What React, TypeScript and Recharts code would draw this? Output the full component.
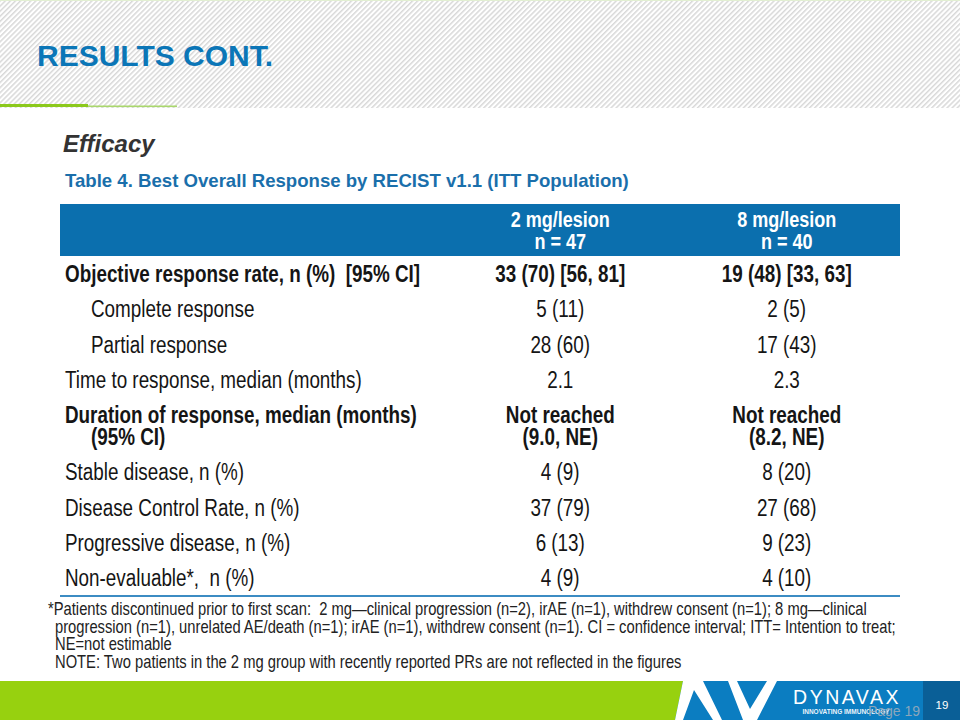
import React from "react";
import { ScatterChart, Scatter, XAxis, YAxis } from "recharts";

// table content
const rowLabels = [
  "Objective response rate, n (%)  [95% CI]",
  "Complete response",
  "Partial response",
  "Time to response, median (months)",
  "Duration of response, median (months)\n(95% CI)",
  "Stable disease, n (%)",
  "Disease Control Rate, n (%)",
  "Progressive disease, n (%)",
  "Non-evaluable*,  n (%)",
];
const boldRows = [0, 4];
const indentRows = [1, 2];

const columnHeaders = ["2 mg/lesion", "8 mg/lesion"];
const columnN = ["n = 47", "n = 40"];

const dose2Values = ["33 (70) [56, 81]", "5 (11)", "28 (60)", "2.1", "Not reached\n(9.0, NE)", "4 (9)", "37 (79)", "6 (13)", "4 (9)"];
const dose8Values = ["19 (48) [33, 63]", "2 (5)", "17 (43)", "2.3", "Not reached\n(8.2, NE)", "8 (20)", "27 (68)", "9 (23)", "4 (10)"];

const footnotes = [
  "*Patients discontinued prior to first scan:  2 mg\u2014clinical progression (n=2), irAE (n=1), withdrew consent (n=1); 8 mg\u2014clinical",
  "progression (n=1), unrelated AE/death (n=1); irAE (n=1), withdrew consent (n=1). CI = confidence interval; ITT= Intention to treat;",
  "NE=not estimable",
  "NOTE: Two patients in the 2 mg group with recently reported PRs are not reflected in the figures",
];

// layout
const W = 960;
const H = 720;
const TABLE_LEFT = 60;
const TABLE_RIGHT = 900;
const HEADER_TOP = 204;
const HEADER_BOTTOM = 256;
const BODY_BOTTOM = 596;
const LABEL_COL_W = 387;
const NARROW = 0.82;
const FONT = "'Liberation Sans', Arial, sans-serif";
const TEXT = "#151515";
const BLUE = "#0b6fae";

// rows with two lines take a bit more room
const rowWeights = rowLabels.map((l) => 1 + 0.6 * (l.split("\n").length - 1));
const rowCenters: number[] = [];
rowWeights.reduce((acc, w) => {
  rowCenters.push(acc + w / 2);
  return acc + w;
}, 0);
const rowTotal = rowWeights.reduce((a, b) => a + b, 0);

const makeCells = (values: string[], col: number) =>
  values.map((text, i) => ({ col, row: rowCenters[i], text, bold: boldRows.includes(i) }));

const NarrowText = ({ x, y, lines, anchor, size, bold, fill, indent = 0, lineH = 22 }: any) => (
  <text
    transform={`translate(${x},${y}) scale(${NARROW},1)`}
    textAnchor={anchor}
    fontSize={size}
    fontWeight={bold ? 700 : 400}
    fill={fill}
    fontFamily={FONT}
    style={{ whiteSpace: "pre" }}
  >
    {lines.map((l: string, k: number) => (
      <tspan key={k} x={k > 0 ? indent / NARROW : 0} y={(k - (lines.length - 1) / 2) * lineH} dy="0.35em">
        {l}
      </tspan>
    ))}
  </text>
);

const CellShape = (props: any) => {
  const { cx, cy, payload } = props;
  return <NarrowText x={cx} y={cy} lines={payload.text.split("\n")} anchor="middle" size={23} bold={payload.bold} fill={TEXT} />;
};

const RowTick = (props: any) => {
  const { y, payload } = props;
  const i = rowCenters.findIndex((c) => Math.abs(c - payload.value) < 1e-6);
  if (i < 0) return null;
  const indent = indentRows.includes(i) ? 26 : 0;
  return (
    <NarrowText
      x={TABLE_LEFT + 5 + indent}
      y={y}
      lines={rowLabels[i].split("\n")}
      anchor="start"
      size={23}
      bold={boldRows.includes(i)}
      fill={TEXT}
      indent={26}
    />
  );
};

const HeaderTick = (props: any) => {
  const { x, payload } = props;
  const i = payload.value;
  return (
    <NarrowText
      x={x}
      y={(HEADER_TOP + HEADER_BOTTOM) / 2}
      lines={[columnHeaders[i], columnN[i]]}
      anchor="middle"
      size={22}
      bold
      fill="#fff"
      lineH={22}
    />
  );
};

const SlideBackground = () => (
  <svg width={W} height={H} style={{ position: "absolute", left: 0, top: 0 }}>
    <defs>
      <pattern id="hatch" width="3.6" height="3.6" patternUnits="userSpaceOnUse" patternTransform="rotate(45)">
        <rect width="1.5" height="3.6" fill="#d8d8d8" />
      </pattern>
    </defs>
    <rect x={0} y={0} width={W} height={H} fill="#fff" />
    <rect x={0} y={0} width={W} height={108} fill="url(#hatch)" />
    <rect x={0} y={0} width={W} height={1} fill="#e2efd2" />
    <rect x={0} y={104} width={88} height={3} fill="#8cc91c" />
    <rect x={88} y={105.5} width={89} height={1.6} fill="#a9d76c" />
    <text x={37} y={66} fontSize={30} fontWeight={700} fill="#0b76b7" fontFamily={FONT}>
      RESULTS CONT.
    </text>

    <text x={63} y={152} fontSize={24} fontWeight={700} fontStyle="italic" fill="#333" fontFamily={FONT}>
      Efficacy
    </text>
    <text x={65} y={187} fontSize={18.6} fontWeight={700} fill="#1a6fab" fontFamily={FONT}>
      Table 4. Best Overall Response by RECIST v1.1 (ITT Population)
    </text>

    <rect x={TABLE_LEFT} y={HEADER_TOP} width={TABLE_RIGHT - TABLE_LEFT} height={HEADER_BOTTOM - HEADER_TOP} fill={BLUE} />
    <rect x={TABLE_LEFT} y={BODY_BOTTOM - 1} width={TABLE_RIGHT - TABLE_LEFT} height={2} fill="#3c8cc3" />

    {footnotes.map((f, i) => (
      <text
        key={i}
        transform={`translate(${i === 0 ? 48 : 55},${615 + i * 17.7}) scale(${NARROW},1)`}
        fontSize={18}
        fill="#222"
        fontFamily={FONT}
        style={{ whiteSpace: "pre" }}
      >
        {f}
      </text>
    ))}

    {/* footer band */}
    <rect x={660} y={681} width={300} height={39} fill="#0b7dc1" />
    <polygon points="0,681 683,681 675,720 0,720" fill="#97d10f" />
    <polygon points="683,681 703,681 722,720 713,720 694,690 683,720 675,720" fill="#fff" />
    <polygon points="728,681 737,681 750,709 767,681 777,681 757,720 743,720" fill="#fff" />
    <rect x={923} y={681} width={37} height={39} fill="#0a5f97" />
    <text x={847} y={704} textAnchor="middle" fontSize={19.5} letterSpacing={2.5} fill="#fff" fontFamily={FONT}>
      DYNAVAX
    </text>
    <text x={846} y={714} textAnchor="middle" fontSize={6.5} fontWeight={700} fill="#e8f2fa" fontFamily={FONT}>
      INNOVATING IMMUNOLOGY
    </text>
    <text x={894} y={716} textAnchor="middle" fontSize={14} fill="#8aa6bb" fontFamily={FONT}>
      Page 19
    </text>
    <text x={942} y={709} textAnchor="middle" fontSize={11.5} fill="#fff" fontFamily={FONT}>
      19
    </text>
  </svg>
);

export default function App() {
  return (
    <div style={{ position: "fixed", left: 0, top: 0, width: W, height: H, overflow: "hidden", background: "#fff" }}>
      <SlideBackground />
      <div style={{ position: "absolute", left: 0, top: 0 }}>
        <ScatterChart
          width={W}
          height={H}
          margin={{ top: HEADER_TOP, right: W - TABLE_RIGHT, bottom: H - BODY_BOTTOM, left: TABLE_LEFT }}
        >
          <XAxis
            type="number"
            dataKey="col"
            orientation="top"
            domain={[-0.5, 1.5]}
            ticks={[0, 1]}
            interval={0}
            height={HEADER_BOTTOM - HEADER_TOP}
            axisLine={false}
            tickLine={false}
            tick={<HeaderTick />}
          />
          <YAxis
            type="number"
            dataKey="row"
            domain={[0, rowTotal]}
            reversed
            ticks={rowCenters}
            interval={0}
            width={LABEL_COL_W}
            axisLine={false}
            tickLine={false}
            tick={<RowTick />}
          />
          <Scatter data={makeCells(dose2Values, 0)} shape={<CellShape />} isAnimationActive={false} />
          <Scatter data={makeCells(dose8Values, 1)} shape={<CellShape />} isAnimationActive={false} />
        </ScatterChart>
      </div>
    </div>
  );
}
